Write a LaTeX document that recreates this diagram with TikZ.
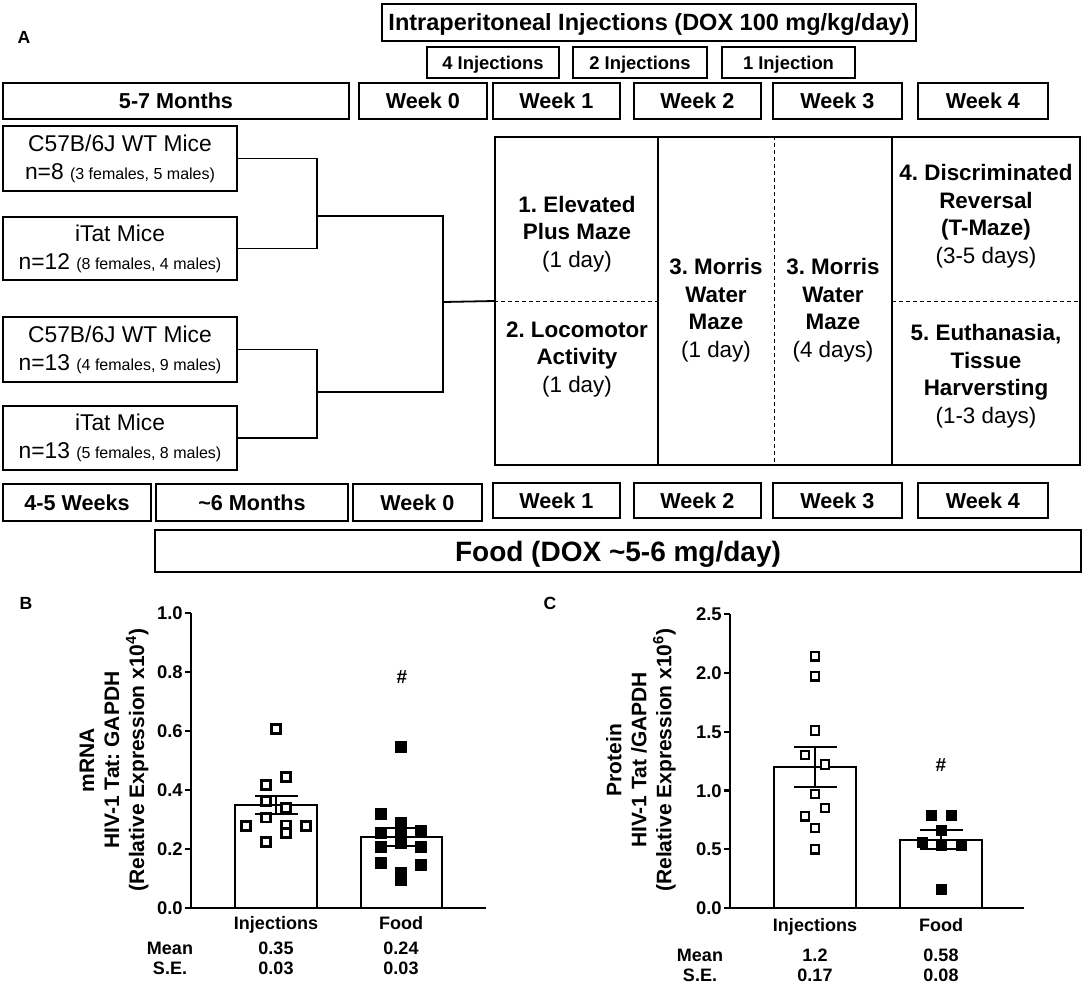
\documentclass[tikz,border=0pt]{standalone}
\usepackage{fontspec}
\setmainfont{Liberation Sans}
\frenchspacing
\newcommand\fs[2]{\fontsize{#1}{#2}\selectfont}
\newcommand\bx[7]{\node[box,#6,minimum width={(#4-#2)*0.5pt},minimum height={(#5-#3)*0.5pt}] (#1) at ({(#2+#4)/2},{(#3+#5)/2}) {#7};}
\newcommand\sq[4]{\draw[#1] ({#2-#4},{#3-#4}) rectangle ({#2+#4},{#3+#4});}
\tikzset{
  box/.style={draw,line width=0.9pt,inner sep=0pt,align=center},
  wk/.style={font=\fs{10.8}{13}\bfseries,text height=7.75pt,text depth=0pt},
  ipf/.style={font=\fs{11.75}{14}\bfseries,text height=8.4pt,text depth=0pt},
  injf/.style={font=\fs{9.2}{11}\bfseries,text height=6.6pt,text depth=0pt},
  foodf/.style={font=\fs{14}{16}\bfseries,text height=10pt,text depth=0pt},
  micef/.style={font=\fs{11.4}{14}},
  gridf/.style={align=center,inner sep=0pt,font=\fs{11.2}{13.75}\bfseries},
  thinline/.style={line width=0.65pt},
  dashline/.style={line width=0.5pt,dash pattern=on 2pt off 1.5pt},
  link/.style={line width=0.9pt},
  axis/.style={line width=1.1pt},
  tick/.style={font=\fs{9.2}{11}\bfseries,inner sep=0pt,text height=6.6pt,text depth=0pt},
  lab/.style={font=\fs{9}{11}\bfseries,inner sep=0pt,text height=6.45pt,text depth=0pt},
  ytitle/.style={rotate=90,align=center,inner sep=0pt,font=\fs{10.5}{12.5}\bfseries},
  bar/.style={draw,line width=0.9pt,fill=white},
  err/.style={line width=0.9pt},
  osq/.style={draw,line width=1.1pt,fill=white},
  fsq/.style={fill=black},
}
\begin{document}
\begin{tikzpicture}[x=0.5pt,y=-0.5pt]
\useasboundingbox (0,0) rectangle (1084,987);
% panel letters
\node[lab,font=\fs{8.8}{10}\bfseries] (pA) at (24,37) {A};
\node[lab,font=\fs{8.8}{10}\bfseries] (pB) at (26,603) {B};
\node[lab,font=\fs{8.8}{10}\bfseries] (pC) at (550,603) {C};
% top rows
\bx{ip}{382}{4}{916}{41}{ipf}{Intraperitoneal Injections (DOX 100 mg/kg/day)}
\bx{inj4}{427}{47}{559}{78}{injf}{4 Injections}
\bx{inj2}{573}{47}{707}{78}{injf}{2 Injections}
\bx{inj1}{722}{47}{855}{78}{injf}{1 Injection}
\bx{m57}{3}{83}{349}{119}{wk}{5-7 Months}
\bx{tw0}{359}{83}{487}{119}{wk}{Week 0}
\bx{tw1}{493}{83}{620}{119}{wk}{Week 1}
\bx{tw2}{634}{83}{761}{119}{wk}{Week 2}
\bx{tw3}{773}{83}{902}{119}{wk}{Week 3}
\bx{tw4}{918}{83}{1048}{119}{wk}{Week 4}
% mice
\bx{mA}{3}{126}{237}{191}{micef}{C57B/6J WT Mice\\n=8 {\fs{8}{10}(3 females, 5 males)}}
\bx{mB}{3}{217}{237}{280}{micef}{iTat Mice\\n=12 {\fs{8}{10}(8 females, 4 males)}}
\bx{mC}{3}{317}{237}{382}{micef}{C57B/6J WT Mice\\n=13 {\fs{8}{10}(4 females, 9 males)}}
\bx{mD}{3}{406}{237}{470}{micef}{iTat Mice\\n=13 {\fs{8}{10}(5 females, 8 males)}}
% grid
\bx{grid}{495}{137}{1080}{465}{line width=1pt}{}
\draw[thinline] (658,0 |- grid.north) -- (658,0 |- grid.south);
\draw[dashline] (774,0 |- grid.north) -- (774,0 |- grid.south);
\draw[thinline] (892,0 |- grid.north) -- (892,0 |- grid.south);
\draw[dashline] (grid.west) -- (658,0 |- grid.west);
\draw[dashline] (892,0 |- grid.east) -- (grid.east);
\node[gridf] (g1) at (577,234) {1. Elevated\\Plus Maze\\\mdseries(1 day)};
\node[gridf] (g2) at (577,359) {2. Locomotor\\Activity\\\mdseries(1 day)};
\node[gridf] (g3) at (716,310) {3. Morris\\Water\\Maze\\\mdseries(1 day)};
\node[gridf] (g4) at (833,310) {3. Morris\\Water\\Maze\\\mdseries(4 days)};
\node[gridf] (g5) at (986,216) {4. Discriminated\\Reversal\\(T-Maze)\\\mdseries(3-5 days)};
\node[gridf] (g6) at (986,376) {5. Euthanasia,\\Tissue\\Harversting\\\mdseries(1-3 days)};
% bracket connectors
\coordinate (j1) at (317,216);
\coordinate (j2) at (317,392);
\coordinate (j3) at (443,302);
\draw[link] (mA.east) -| (j1) |- (mB.east);
\draw[link] (mC.east) -| (j2) |- (mD.east);
\draw[link] (j1) -| (j3) |- (j2);
\draw[link] (j3) -- (grid.west);
% bottom rows
\bx{b45}{3}{484}{151}{521}{wk}{4-5 Weeks}
\bx{b6m}{156}{484}{348}{521}{wk}{\textasciitilde6 Months}
\bx{bw0}{353}{484}{482}{521}{wk}{Week 0}
\bx{bw1}{493}{483}{620}{518}{wk}{Week 1}
\bx{bw2}{634}{483}{761}{518}{wk}{Week 2}
\bx{bw3}{773}{483}{902}{518}{wk}{Week 3}
\bx{bw4}{918}{483}{1048}{518}{wk}{Week 4}
\bx{food}{155}{530}{1081}{572}{foodf}{Food (DOX \textasciitilde5-6 mg/day)}
% ---------------- chart B ----------------
\draw[bar] (235,{908-295*0.35}) rectangle (317,908);
\draw[bar] (361,{908-295*0.24}) rectangle (442,908);
\foreach \x/\v in {276/0.607,286/0.444,266/0.417,266/0.363,286/0.339,266/0.308,246/0.278,286/0.28,306/0.278,286/0.254,266/0.224}
  {\sq{osq}{\x}{908-295*\v}{4.5}}
\foreach \x/\v in {401/0.546,381/0.318,401/0.29,381/0.254,401/0.254,421/0.26,381/0.207,401/0.22,421/0.207,381/0.153,421/0.146,401/0.118,401/0.095}
  {\sq{fsq}{\x}{908-295*\v}{5.5}}
\draw[err] (276,{908-295*0.38}) -- (276,{908-295*0.32});
\draw[err] (255,{908-295*0.38}) -- (298,{908-295*0.38});
\draw[err] (255,{908-295*0.32}) -- (298,{908-295*0.32});
\draw[err] (401,{908-295*0.27}) -- (401,{908-295*0.21});
\draw[err] (382,{908-295*0.27}) -- (425,{908-295*0.27});
\draw[err] (382,{908-295*0.21}) -- (425,{908-295*0.21});
\draw[axis] (191,613) -- (191,908) -- (486,908);
\foreach \v [count=\i] in {0.0,0.2,0.4,0.6,0.8,1.0} {
  \draw[axis] (185,{908-295*\v}) -- (191,{908-295*\v});
  \node[tick,anchor=east] (tb\i) at (183,{908-295*\v}) {\v};
}
\node[ytitle] (ytB) at (114,760) {mRNA\\HIV-1 Tat: GAPDH\\(Relative Expression x10\textsuperscript{4})};
\node[lab,font=\fs{9.5}{11}\bfseries] (hB) at (402,677) {\#};
\node[lab] (cB1) at (276,923) {Injections};
\node[lab] (cB2) at (401,923) {Food};
\node[lab] (mnB) at (170,948) {Mean};
\node[lab] (seB) at (170,968) {S.E.};
\node[lab] (mB1) at (276,948) {0.35};
\node[lab] (mB2) at (401,948) {0.24};
\node[lab] (sB1) at (276,968) {0.03};
\node[lab] (sB2) at (401,968) {0.03};
% ---------------- chart C ----------------
\draw[bar] (774,{908-117.6*1.2}) rectangle (856,908);
\draw[bar] (900,{908-117.6*0.58}) rectangle (982,908);
\foreach \x/\v in {815/2.14,815/1.97,815/1.51,805/1.30,825/1.22,815/0.97,825/0.85,805/0.78,815/0.68,815/0.50}
  {\sq{osq}{\x}{908-117.6*\v}{4.2}}
\foreach \x/\v in {931/0.79,951/0.79,941/0.66,922/0.56,941/0.53,961/0.53,941/0.16}
  {\sq{fsq}{\x}{908-117.6*\v}{5}}
\draw[err] (815,{908-117.6*1.37}) -- (815,{908-117.6*1.03});
\draw[err] (794,{908-117.6*1.37}) -- (837,{908-117.6*1.37});
\draw[err] (794,{908-117.6*1.03}) -- (837,{908-117.6*1.03});
\draw[err] (941,{908-117.6*0.66}) -- (941,{908-117.6*0.50});
\draw[err] (920,{908-117.6*0.66}) -- (963,{908-117.6*0.66});
\draw[err] (920,{908-117.6*0.50}) -- (963,{908-117.6*0.50});
\draw[axis] (730,614) -- (730,908) -- (1024,908);
\foreach \v [count=\i] in {0.0,0.5,1.0,1.5,2.0,2.5} {
  \draw[axis] (724,{908-117.6*\v}) -- (730,{908-117.6*\v});
  \node[tick,anchor=east] (tc\i) at (722,{908-117.6*\v}) {\v};
}
\node[ytitle] (ytC) at (641,760) {Protein\\HIV-1 Tat /GAPDH\\(Relative Expression x10\textsuperscript{6})};
\node[lab,font=\fs{9.5}{11}\bfseries] (hC) at (941,765) {\#};
\node[lab] (cC1) at (815,925) {Injections};
\node[lab] (cC2) at (941,925) {Food};
\node[lab] (mnC) at (700,955) {Mean};
\node[lab] (seC) at (700,975) {S.E.};
\node[lab] (mC1) at (815,955) {1.2};
\node[lab] (mC2) at (941,955) {0.58};
\node[lab] (sC1) at (815,975) {0.17};
\node[lab] (sC2) at (941,975) {0.08};
\end{tikzpicture}
\end{document}
